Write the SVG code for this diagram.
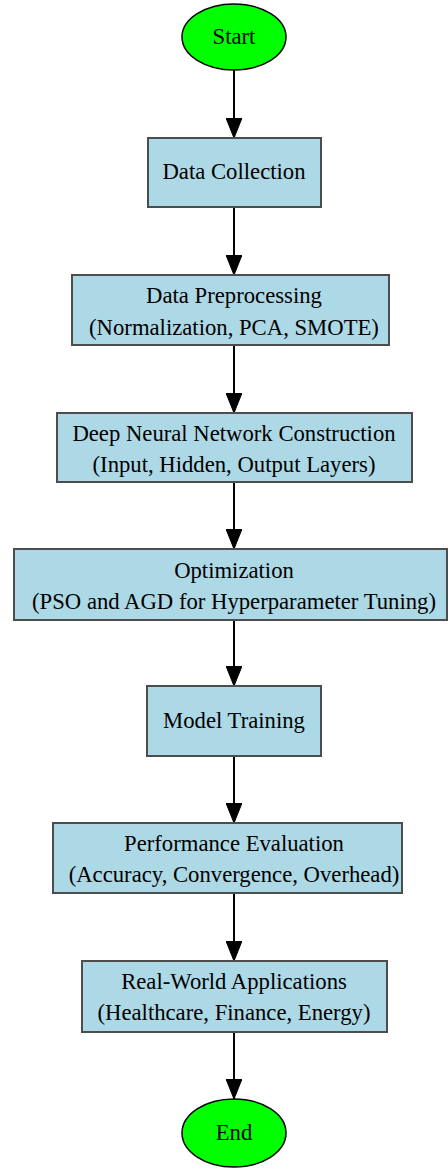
<svg xmlns="http://www.w3.org/2000/svg" width="448" height="1169" viewBox="0 0 448 1169">
<style>
.box{fill:#add8e6;stroke:#4d4d4d;stroke-width:2}
.term{fill:#00ff00;stroke:#000;stroke-width:1.5}
.edge{stroke:#000;stroke-width:2;fill:none}
</style>
<defs>
<marker id="arr" markerWidth="20" markerHeight="16" refX="20" refY="8" orient="auto" markerUnits="userSpaceOnUse">
<path d="M0,0 L20,8 L0,16 Z" fill="#000" stroke="#000" stroke-width="1"/>
</marker>
</defs>
<rect width="448" height="1169" fill="#fff"/>
<g id="connectors">
<line class="edge" x1="234" y1="70" x2="234" y2="138" marker-end="url(#arr)"/>
<line class="edge" x1="234" y1="207" x2="234" y2="275" marker-end="url(#arr)"/>
<line class="edge" x1="234" y1="345" x2="234" y2="413" marker-end="url(#arr)"/>
<line class="edge" x1="234" y1="482" x2="234" y2="549" marker-end="url(#arr)"/>
<line class="edge" x1="234" y1="620" x2="234" y2="686" marker-end="url(#arr)"/>
<line class="edge" x1="234" y1="756" x2="234" y2="823" marker-end="url(#arr)"/>
<line class="edge" x1="234" y1="893" x2="234" y2="961" marker-end="url(#arr)"/>
<line class="edge" x1="234" y1="1032" x2="234" y2="1099" marker-end="url(#arr)"/>
</g>
<g font-family="'Liberation Serif', 'Times New Roman', serif" font-size="22.7" text-anchor="middle" fill="#000">
<g id="start">
<ellipse class="term" cx="234" cy="37" rx="52" ry="33"/>
<text x="234" y="44">Start</text>
</g>
<g id="data_collection">
<rect class="box" x="148" y="138" width="173" height="69"/>
<text x="234" y="179">Data Collection</text>
</g>
<g id="data_preprocessing">
<rect class="box" x="72" y="275" width="317" height="70"/>
<text x="234" y="303">Data Preprocessing</text>
<text x="234" y="335">(Normalization, PCA, SMOTE)</text>
</g>
<g id="dnn_construction">
<rect class="box" x="57" y="413" width="355" height="69"/>
<text x="234" y="441">Deep Neural Network Construction</text>
<text x="234" y="472">(Input, Hidden, Output Layers)</text>
</g>
<g id="optimization">
<rect class="box" x="14" y="549" width="433" height="71"/>
<text x="234" y="578">Optimization</text>
<text x="234" y="609">(PSO and AGD for Hyperparameter Tuning)</text>
</g>
<g id="model_training">
<rect class="box" x="147" y="686" width="174" height="70"/>
<text x="234" y="728">Model Training</text>
</g>
<g id="performance_evaluation">
<rect class="box" x="53" y="823" width="349" height="70"/>
<text x="234" y="851">Performance Evaluation</text>
<text x="234" y="882">(Accuracy, Convergence, Overhead)</text>
</g>
<g id="real_world_applications">
<rect class="box" x="82" y="961" width="305" height="71"/>
<text x="234" y="989">Real-World Applications</text>
<text x="234" y="1020">(Healthcare, Finance, Energy)</text>
</g>
<g id="end">
<ellipse class="term" cx="234" cy="1133" rx="52" ry="34"/>
<text x="234" y="1140">End</text>
</g>
</g>
</svg>
